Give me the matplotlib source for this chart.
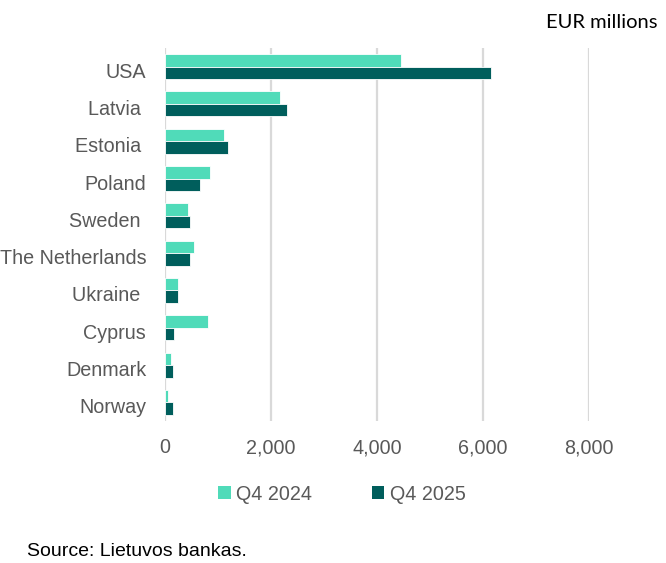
import numpy as np
import matplotlib.pyplot as plt
import matplotlib.transforms as mtransforms
from matplotlib.patches import Patch

# Data (EUR millions)
countries = ["USA", "Latvia ", "Estonia ", "Poland", "Sweden ", "The Netherlands",
             "Ukraine ", "Cyprus", "Denmark", "Norway"]
q4_2024 = [4450, 2170, 1110, 850, 430, 545, 245, 810, 110, 55]
q4_2025 = [6150, 2300, 1190, 660, 470, 470, 245, 170, 150, 150]
series_names = ["Q4 2024", "Q4 2025"]
xticks = [0, 2000, 4000, 6000, 8000]

LIGHT = "#50dbb9"
DARK = "#005e5c"
GREY = "#595959"

plt.rcParams['font.family'] = ['Liberation Sans', 'DejaVu Sans']

fig = plt.figure(figsize=(6.66, 5.63), dpi=100)
ax = fig.add_axes([165 / 666, 1 - 421 / 563, (589 - 165) / 666, (421 - 48) / 563])

y = np.arange(len(countries))
h = 0.335
ax.barh(y - h / 2, q4_2024, height=h, color=LIGHT, edgecolor="white", linewidth=0.6, zorder=3)
ax.barh(y + h / 2, q4_2025, height=h, color=DARK, edgecolor="white", linewidth=0.6, zorder=3)

ax.set_xlim(0, 8000)
ax.set_ylim(len(countries) - 0.5, -0.5)
ax.set_xticks(xticks)
ax.set_xticklabels([f"{v:,}" for v in xticks])
ax.set_yticks(y)
ax.set_yticklabels(countries)
ax.tick_params(axis="both", length=0, labelsize=14.2, colors=GREY)
ax.tick_params(axis="y", pad=13.5)
ax.tick_params(axis="x", pad=12.5)
ax.grid(axis="x", color="#d9d9d9", linewidth=1.6, zorder=0)
for s in ax.spines.values():
    s.set_visible(False)

# labels sit a little below the bar pair centre in the original
shift = mtransforms.ScaledTranslation(0, -3.5 / 100, fig.dpi_scale_trans)
for lab in ax.get_yticklabels():
    lab.set_transform(lab.get_transform() + shift)

handles = [Patch(facecolor=LIGHT), Patch(facecolor=DARK)]
fig.legend(handles, series_names, loc="center", bbox_to_anchor=(342 / 666, 1 - 494 / 563),
           ncol=2, frameon=False, fontsize=14.2, labelcolor=GREY,
           handlelength=0.62, handleheight=0.62, handletextpad=0.3, columnspacing=3.0)

fig.text(658 / 666, 1 - 23 / 563, "EUR millions", ha="right", va="center",
         fontsize=14.5, color="black", family=["Lato", "DejaVu Sans"])
fig.text(27 / 666, 1 - 552 / 563, "Source: Lietuvos bankas.", ha="left", va="center",
         fontsize=14, color="black")

fig.savefig("out.png", dpi=100)
